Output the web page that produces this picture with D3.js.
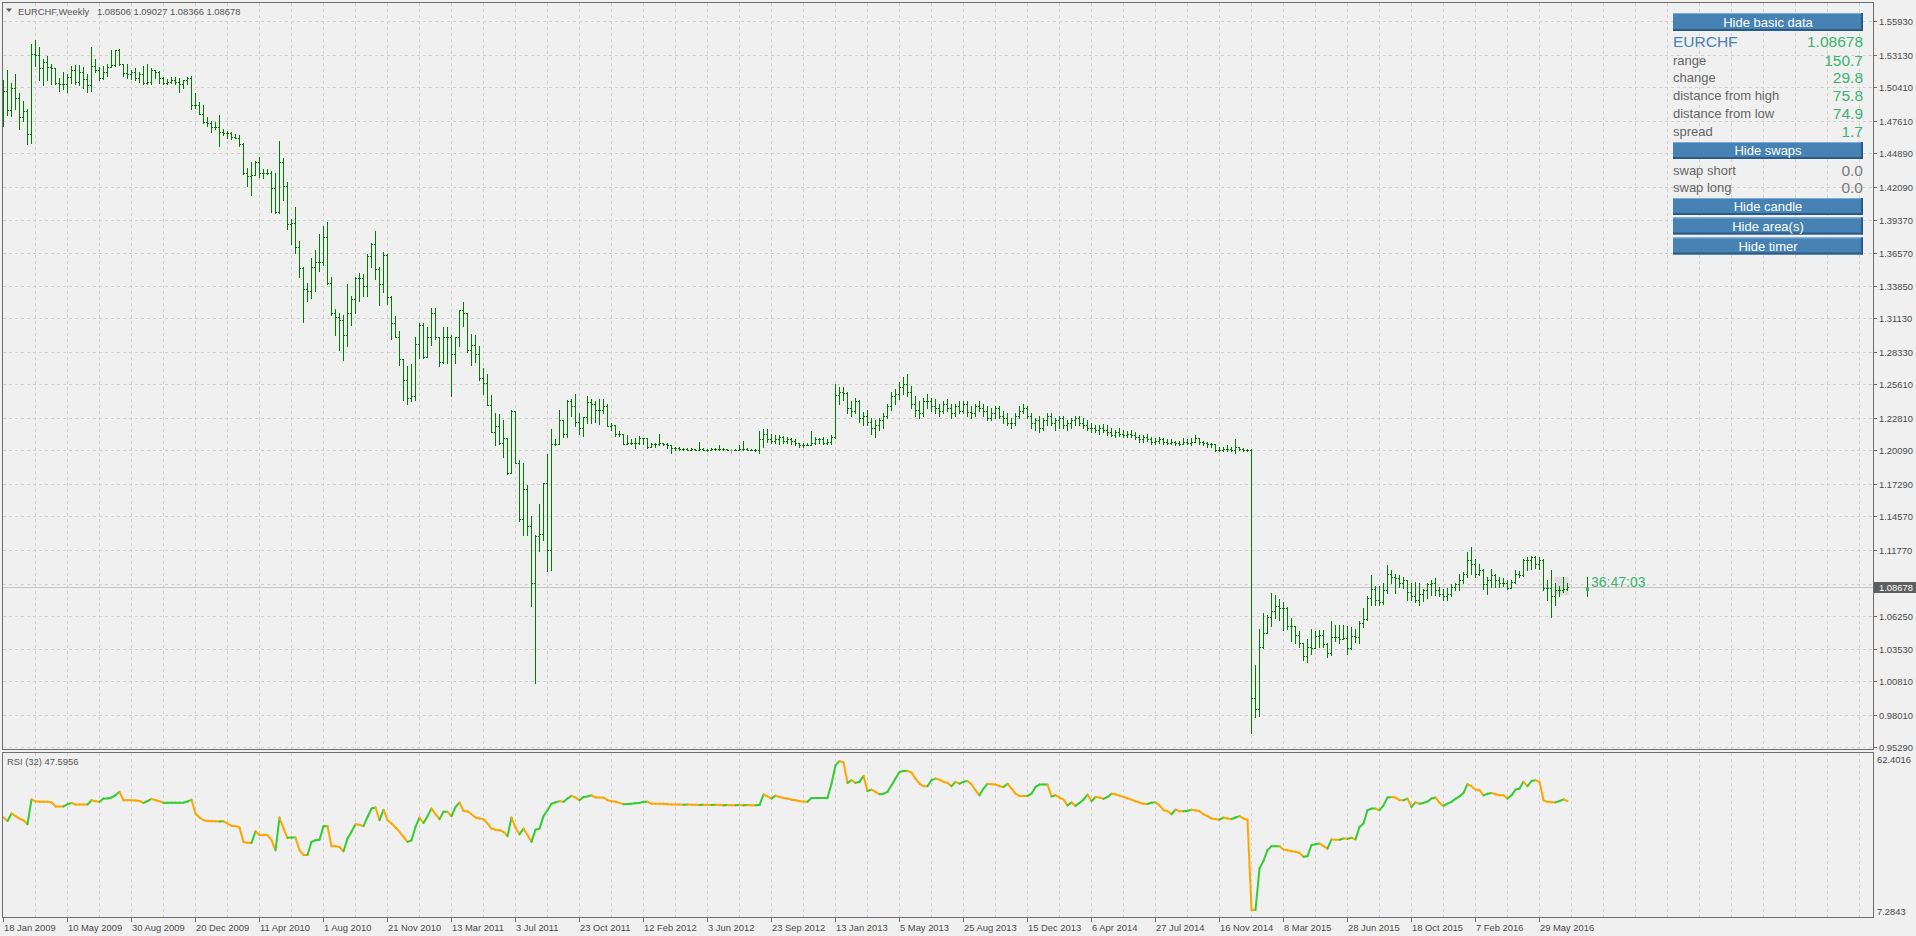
<!DOCTYPE html>
<html>
<head>
<meta charset="utf-8">
<script src="https://d3js.org/d3.v7.min.js"></script>
<style>
  body { margin:0; background:#f0f0f0; overflow:hidden; }
  svg { display:block; }
  text { font-family:"Liberation Sans", Arial, sans-serif; }
</style>
</head>
<body>
<script>
// EURCHF weekly bars, one entry per week starting at firstWeek
var symbol = "EURCHF", period = "Weekly";
var firstWeek = "2009-01-18";

var opens = [
1.493,1.501,1.485,1.504,1.495,1.479,1.484,1.465,1.532,1.531,
1.520,1.525,1.521,1.520,1.508,1.507,1.507,1.513,1.519,1.509,
1.517,1.511,1.506,1.522,1.519,1.512,1.517,1.521,1.523,1.535,
1.524,1.516,1.515,1.517,1.512,1.515,1.508,1.509,1.519,1.517,
1.512,1.508,1.509,1.510,1.509,1.507,1.510,1.512,1.489,1.489,
1.482,1.475,1.474,1.471,1.471,1.467,1.466,1.466,1.463,1.462,
1.457,1.433,1.430,1.431,1.442,1.433,1.433,1.433,1.420,1.400,
1.442,1.422,1.390,1.391,1.371,1.353,1.336,1.334,1.354,1.358,
1.358,1.379,1.341,1.316,1.312,1.310,1.297,1.316,1.327,1.345,
1.345,1.338,1.363,1.373,1.352,1.340,1.364,1.329,1.307,1.296,
1.277,1.260,1.245,1.246,1.290,1.306,1.279,1.296,1.316,1.296,
1.275,1.296,1.296,1.281,1.296,1.318,1.316,1.285,1.289,1.281,
1.261,1.257,1.239,1.216,1.221,1.207,1.211,1.182,1.234,1.190,
1.144,1.169,1.138,1.090,1.129,1.131,1.174,1.118,1.206,1.206,
1.226,1.215,1.242,1.238,1.225,1.220,1.229,1.241,1.240,1.235,
1.235,1.238,1.221,1.222,1.215,1.215,1.206,1.207,1.207,1.207,
1.211,1.211,1.204,1.206,1.206,1.207,1.206,1.205,1.203,1.203,
1.202,1.202,1.201,1.202,1.201,1.202,1.201,1.201,1.202,1.202,
1.202,1.202,1.201,1.201,1.201,1.202,1.202,1.201,1.201,1.201,
1.210,1.215,1.210,1.209,1.210,1.212,1.209,1.210,1.209,1.207,
1.205,1.205,1.205,1.207,1.210,1.210,1.207,1.208,1.212,1.247,
1.250,1.249,1.236,1.234,1.242,1.228,1.230,1.225,1.220,1.222,
1.226,1.230,1.238,1.246,1.248,1.254,1.256,1.250,1.240,1.235,
1.232,1.242,1.242,1.238,1.236,1.234,1.240,1.236,1.232,1.238,
1.234,1.240,1.233,1.232,1.238,1.236,1.234,1.228,1.232,1.236,
1.230,1.228,1.224,1.224,1.230,1.234,1.236,1.230,1.224,1.226,
1.220,1.226,1.230,1.224,1.226,1.228,1.222,1.224,1.226,1.228,
1.224,1.222,1.220,1.220,1.218,1.220,1.218,1.216,1.214,1.216,
1.215,1.214,1.215,1.214,1.212,1.210,1.212,1.210,1.208,1.209,
1.210,1.208,1.207,1.208,1.207,1.206,1.208,1.207,1.208,1.211,
1.208,1.207,1.206,1.206,1.201,1.201,1.202,1.202,1.201,1.204,
1.202,1.201,1.201,0.994,0.985,1.037,1.048,1.062,1.067,1.071,
1.069,1.069,1.054,1.054,1.047,1.040,1.029,1.037,1.036,1.046,
1.047,1.039,1.032,1.045,1.045,1.043,1.044,1.036,1.046,1.045,
1.057,1.060,1.078,1.085,1.076,1.074,1.084,1.098,1.095,1.094,
1.090,1.093,1.083,1.079,1.076,1.081,1.084,1.089,1.090,1.084,
1.081,1.079,1.081,1.087,1.089,1.093,1.098,1.109,1.106,1.098,
1.101,1.089,1.093,1.097,1.093,1.090,1.090,1.086,1.091,1.098,
1.097,1.109,1.109,1.112,1.106,1.109,1.086,1.086,1.079,1.084,
1.084,1.085];

var highs = [
1.510,1.519,1.508,1.515,1.499,1.493,1.486,1.540,1.544,1.538,
1.528,1.530,1.524,1.520,1.512,1.517,1.515,1.522,1.523,1.523,
1.521,1.515,1.538,1.528,1.521,1.522,1.524,1.535,1.535,1.536,
1.524,1.524,1.519,1.520,1.517,1.522,1.524,1.520,1.519,1.518,
1.513,1.511,1.513,1.513,1.512,1.510,1.513,1.514,1.499,1.492,
1.489,1.479,1.476,1.475,1.481,1.469,1.468,1.467,1.465,1.464,
1.458,1.437,1.442,1.443,1.446,1.436,1.436,1.434,1.433,1.459,
1.445,1.425,1.394,1.404,1.376,1.354,1.341,1.362,1.368,1.382,
1.388,1.392,1.346,1.319,1.316,1.314,1.340,1.330,1.346,1.349,
1.348,1.365,1.374,1.384,1.354,1.367,1.365,1.330,1.313,1.301,
1.277,1.271,1.273,1.296,1.307,1.307,1.304,1.320,1.320,1.296,
1.304,1.304,1.297,1.296,1.318,1.325,1.316,1.298,1.297,1.288,
1.270,1.265,1.247,1.232,1.231,1.226,1.211,1.235,1.234,1.193,
1.190,1.172,1.146,1.130,1.156,1.174,1.198,1.219,1.210,1.235,
1.226,1.243,1.244,1.248,1.232,1.229,1.246,1.244,1.242,1.244,
1.244,1.240,1.224,1.222,1.217,1.215,1.214,1.210,1.211,1.213,
1.211,1.211,1.207,1.207,1.215,1.207,1.207,1.205,1.204,1.204,
1.203,1.203,1.203,1.202,1.208,1.203,1.202,1.203,1.203,1.205,
1.203,1.202,1.202,1.202,1.205,1.209,1.203,1.202,1.202,1.217,
1.219,1.219,1.215,1.214,1.214,1.213,1.212,1.211,1.210,1.207,
1.207,1.207,1.217,1.212,1.211,1.212,1.210,1.214,1.256,1.254,
1.254,1.250,1.242,1.245,1.243,1.233,1.235,1.228,1.226,1.228,
1.232,1.240,1.250,1.252,1.258,1.262,1.265,1.255,1.246,1.242,
1.245,1.248,1.245,1.244,1.240,1.242,1.244,1.240,1.240,1.242,
1.242,1.242,1.238,1.240,1.242,1.240,1.238,1.236,1.238,1.238,
1.234,1.232,1.228,1.232,1.238,1.240,1.238,1.232,1.228,1.230,
1.228,1.232,1.232,1.228,1.230,1.230,1.226,1.228,1.230,1.230,
1.228,1.226,1.224,1.222,1.222,1.223,1.222,1.220,1.218,1.220,
1.218,1.217,1.218,1.216,1.214,1.214,1.215,1.212,1.211,1.212,
1.211,1.210,1.210,1.209,1.209,1.211,1.210,1.211,1.214,1.211,
1.209,1.208,1.207,1.206,1.204,1.204,1.205,1.204,1.210,1.204,
1.203,1.202,1.202,1.022,1.052,1.065,1.063,1.082,1.080,1.077,
1.074,1.070,1.061,1.054,1.050,1.040,1.043,1.052,1.050,1.051,
1.051,1.040,1.058,1.055,1.055,1.055,1.054,1.053,1.052,1.058,
1.069,1.079,1.097,1.088,1.088,1.090,1.105,1.101,1.098,1.097,
1.095,1.093,1.090,1.091,1.090,1.085,1.090,1.093,1.094,1.087,
1.085,1.086,1.089,1.090,1.098,1.099,1.116,1.120,1.110,1.106,
1.102,1.095,1.102,1.098,1.095,1.094,1.093,1.093,1.101,1.100,
1.110,1.112,1.113,1.113,1.112,1.110,1.093,1.101,1.090,1.088,
1.095,1.090];

var lows = [
1.472,1.481,1.480,1.486,1.469,1.476,1.457,1.458,1.522,1.510,
1.506,1.510,1.507,1.507,1.501,1.503,1.500,1.508,1.507,1.506,
1.504,1.500,1.501,1.517,1.510,1.511,1.514,1.521,1.522,1.523,
1.514,1.512,1.511,1.510,1.509,1.507,1.507,1.507,1.512,1.508,
1.507,1.507,1.508,1.507,1.500,1.504,1.507,1.486,1.487,1.482,
1.474,1.472,1.467,1.469,1.455,1.464,1.462,1.461,1.462,1.455,
1.432,1.422,1.414,1.431,1.429,1.428,1.432,1.400,1.399,1.399,
1.410,1.386,1.373,1.366,1.346,1.308,1.326,1.328,1.334,1.351,
1.356,1.340,1.314,1.297,1.285,1.276,1.288,1.306,1.316,1.326,
1.330,1.330,1.354,1.344,1.322,1.333,1.323,1.294,1.296,1.272,
1.243,1.240,1.242,1.243,1.278,1.278,1.279,1.289,1.294,1.271,
1.274,1.274,1.246,1.274,1.288,1.305,1.283,1.272,1.275,1.260,
1.248,1.239,1.216,1.205,1.206,1.195,1.181,1.182,1.190,1.142,
1.130,1.130,1.071,1.007,1.117,1.126,1.100,1.101,1.205,1.206,
1.212,1.212,1.230,1.221,1.215,1.213,1.224,1.224,1.225,1.223,
1.232,1.221,1.218,1.213,1.213,1.206,1.206,1.206,1.203,1.206,
1.206,1.203,1.204,1.204,1.205,1.205,1.203,1.199,1.201,1.201,
1.201,1.201,1.201,1.201,1.201,1.201,1.200,1.201,1.201,1.201,
1.201,1.201,1.199,1.201,1.201,1.201,1.201,1.201,1.200,1.199,
1.204,1.208,1.207,1.207,1.206,1.207,1.207,1.206,1.205,1.204,
1.204,1.205,1.205,1.206,1.207,1.206,1.206,1.206,1.211,1.240,
1.243,1.232,1.230,1.232,1.225,1.222,1.222,1.215,1.212,1.218,
1.220,1.228,1.235,1.240,1.244,1.248,1.246,1.236,1.230,1.228,
1.230,1.236,1.234,1.232,1.230,1.232,1.234,1.228,1.230,1.232,
1.232,1.230,1.228,1.230,1.234,1.230,1.226,1.226,1.228,1.228,
1.224,1.222,1.220,1.222,1.228,1.232,1.228,1.220,1.218,1.216,
1.218,1.222,1.222,1.218,1.220,1.220,1.218,1.220,1.222,1.222,
1.220,1.218,1.216,1.216,1.215,1.216,1.214,1.213,1.212,1.213,
1.212,1.212,1.212,1.210,1.208,1.208,1.209,1.206,1.206,1.207,
1.206,1.206,1.206,1.205,1.205,1.206,1.206,1.205,1.208,1.206,
1.205,1.204,1.204,1.200,1.200,1.200,1.200,1.200,1.199,1.201,
1.200,1.200,0.965,0.978,0.979,1.036,1.048,1.054,1.061,1.059,
1.051,1.052,1.042,1.040,1.037,1.026,1.024,1.031,1.036,1.037,
1.037,1.028,1.030,1.042,1.040,1.043,1.031,1.035,1.041,1.040,
1.053,1.059,1.072,1.072,1.072,1.073,1.082,1.090,1.082,1.087,
1.086,1.076,1.076,1.074,1.072,1.075,1.078,1.080,1.080,1.079,
1.076,1.076,1.079,1.084,1.084,1.090,1.095,1.098,1.095,1.097,
1.085,1.081,1.087,1.087,1.087,1.088,1.085,1.086,1.090,1.095,
1.096,1.101,1.102,1.103,1.102,1.084,1.076,1.062,1.072,1.079,
1.083,1.084];

var closes = [
1.501,1.485,1.504,1.495,1.479,1.484,1.465,1.532,1.531,1.520,
1.525,1.521,1.520,1.508,1.507,1.507,1.513,1.519,1.509,1.517,
1.511,1.506,1.522,1.519,1.512,1.517,1.521,1.523,1.535,1.524,
1.516,1.515,1.517,1.512,1.515,1.508,1.509,1.519,1.517,1.512,
1.508,1.509,1.510,1.509,1.507,1.510,1.512,1.489,1.489,1.482,
1.475,1.474,1.471,1.471,1.467,1.466,1.466,1.463,1.462,1.457,
1.433,1.430,1.431,1.442,1.433,1.433,1.433,1.420,1.400,1.442,
1.422,1.390,1.391,1.371,1.353,1.336,1.334,1.354,1.358,1.358,
1.379,1.341,1.316,1.312,1.310,1.297,1.316,1.327,1.345,1.345,
1.338,1.363,1.373,1.352,1.340,1.364,1.329,1.307,1.296,1.277,
1.260,1.245,1.246,1.290,1.306,1.279,1.296,1.316,1.296,1.275,
1.296,1.296,1.281,1.296,1.318,1.316,1.285,1.289,1.281,1.261,
1.257,1.239,1.216,1.221,1.207,1.211,1.182,1.234,1.190,1.144,
1.169,1.138,1.090,1.129,1.131,1.174,1.118,1.206,1.206,1.226,
1.215,1.242,1.238,1.225,1.220,1.229,1.241,1.240,1.235,1.235,
1.238,1.221,1.222,1.215,1.215,1.206,1.207,1.207,1.207,1.211,
1.211,1.204,1.206,1.206,1.207,1.206,1.205,1.203,1.203,1.202,
1.202,1.201,1.202,1.201,1.202,1.201,1.201,1.202,1.202,1.202,
1.202,1.201,1.201,1.201,1.202,1.202,1.201,1.201,1.201,1.210,
1.215,1.210,1.209,1.210,1.212,1.209,1.210,1.209,1.207,1.205,
1.205,1.205,1.207,1.210,1.210,1.207,1.208,1.212,1.247,1.250,
1.249,1.236,1.234,1.242,1.228,1.230,1.225,1.220,1.222,1.226,
1.230,1.238,1.246,1.248,1.254,1.256,1.250,1.240,1.235,1.232,
1.242,1.242,1.238,1.236,1.234,1.240,1.236,1.232,1.238,1.234,
1.240,1.233,1.232,1.238,1.236,1.234,1.228,1.232,1.236,1.230,
1.228,1.224,1.224,1.230,1.234,1.236,1.230,1.224,1.226,1.220,
1.226,1.230,1.224,1.226,1.228,1.222,1.224,1.226,1.228,1.224,
1.222,1.220,1.220,1.218,1.220,1.218,1.216,1.214,1.216,1.215,
1.214,1.215,1.214,1.212,1.210,1.212,1.210,1.208,1.209,1.210,
1.208,1.207,1.208,1.207,1.206,1.208,1.207,1.208,1.211,1.208,
1.207,1.206,1.206,1.201,1.201,1.202,1.202,1.201,1.204,1.202,
1.201,1.201,0.994,0.985,1.037,1.048,1.062,1.067,1.071,1.069,
1.069,1.054,1.054,1.047,1.040,1.029,1.037,1.036,1.046,1.047,
1.039,1.032,1.045,1.045,1.043,1.044,1.036,1.046,1.045,1.057,
1.060,1.078,1.085,1.076,1.074,1.084,1.098,1.095,1.094,1.090,
1.093,1.083,1.079,1.076,1.081,1.084,1.089,1.090,1.084,1.081,
1.079,1.081,1.087,1.089,1.093,1.098,1.109,1.106,1.098,1.101,
1.089,1.093,1.097,1.093,1.090,1.090,1.086,1.091,1.098,1.097,
1.109,1.109,1.112,1.106,1.109,1.086,1.086,1.079,1.084,1.084,
1.085,1.087];

var rsi = [
41.5,40.2,43.0,42.0,41.1,40.5,39.0,48.2,47.5,47.3,
47.3,47.3,47.1,45.6,45.6,45.6,46.4,46.9,46.3,46.3,
46.3,46.3,47.9,47.5,47.3,48.5,48.5,48.9,49.7,51.0,
47.9,47.9,47.9,47.8,47.6,46.9,47.6,48.4,47.9,47.5,
46.9,47.0,47.0,47.0,47.0,47.0,47.4,48.1,43.0,41.5,
40.5,40.2,40.1,40.1,40.0,40.1,39.3,38.4,38.4,37.8,
32.4,32.2,32.1,36.4,35.0,35.0,35.0,33.1,29.4,41.5,
37.4,34.0,34.1,34.1,29.4,27.6,27.6,32.5,33.1,33.3,
38.3,38.3,30.9,30.9,30.6,29.0,33.7,36.2,39.0,38.8,
38.3,41.7,44.8,45.2,40.5,44.4,40.5,39.3,37.8,36.2,
34.3,32.5,33.1,38.0,41.5,39.5,42.0,44.8,42.7,40.9,
43.6,43.6,42.0,45.4,47.0,43.9,43.8,42.7,41.5,41.1,
40.9,39.3,37.4,37.0,36.8,36.2,34.6,41.5,37.8,35.3,
37.4,35.0,32.5,37.0,37.4,42.0,44.2,46.6,47.1,47.5,
47.3,48.5,49.5,48.9,47.9,49.1,49.3,49.7,48.9,48.9,
48.9,47.9,47.5,47.3,46.9,46.4,46.5,46.6,46.8,46.9,
47.3,47.3,46.6,46.6,46.6,46.6,46.4,46.3,46.3,46.3,
46.2,46.3,46.2,46.2,46.1,46.2,46.1,46.1,46.2,46.1,
46.0,46.1,46.0,46.0,46.1,46.0,46.1,46.0,46.0,46.1,
50.0,49.3,48.5,49.6,49.1,48.7,48.5,48.1,47.9,47.5,
47.4,47.3,48.7,48.7,48.7,48.7,48.7,54.0,60.8,62.4,
61.9,54.3,55.3,54.3,54.7,56.9,51.3,51.8,51.0,50.1,
50.3,51.0,53.4,55.9,58.3,58.7,58.7,58.1,55.9,54.0,
53.1,53.1,55.3,55.9,55.5,54.7,54.3,53.1,54.7,54.0,
54.7,55.0,53.8,51.6,49.7,52.2,54.0,53.8,53.7,53.1,
52.8,54.0,52.2,50.3,49.5,49.5,49.5,50.3,52.8,53.7,
53.7,53.7,49.3,49.7,48.9,48.1,46.0,47.1,45.8,46.9,
48.1,50.0,47.5,49.1,48.9,48.4,49.1,50.3,50.1,49.6,
49.1,48.6,48.1,47.5,47.0,46.6,46.5,47.0,47.1,46.0,
44.2,43.9,42.7,44.4,43.8,43.8,43.9,44.4,44.2,43.8,
42.7,42.0,41.1,40.9,40.7,41.5,41.1,40.9,41.5,42.0,
41.1,40.7,7.3,7.3,22.6,25.5,29.4,30.9,30.9,30.9,
29.7,29.4,29.0,28.8,28.4,27.0,27.2,31.3,31.6,31.9,
30.9,30.0,33.4,33.3,33.3,33.7,33.6,34.0,33.4,38.0,
39.3,44.2,44.8,44.8,44.2,46.0,48.9,49.1,48.9,47.9,
47.9,48.5,45.4,47.1,46.6,46.9,47.4,48.5,48.9,46.9,
45.8,46.6,47.3,48.4,49.3,50.6,53.8,53.1,51.8,51.6,
49.7,50.3,50.6,50.1,49.7,49.7,48.5,49.7,51.8,52.2,
54.7,53.1,55.0,55.3,54.7,47.9,47.3,47.1,47.1,47.6,
48.2,47.6];

// the forming bar: title values, and the range its line covers in the picture
var current = {date: "2016-08-21", open: 1.08506, high: 1.09027, low: 1.08366, close: 1.08678};
var currentRange = [1.0793, 1.0949];
var candleArea = {from: "2016-06-26", to: "2016-07-17", low: 1.0799, high: 1.0949};
var timer = "36:47:03";
var dojiWeeks = [182];

var priceTicks = [1.55930,1.53130,1.50410,1.47610,1.44890,1.42090,1.39370,1.36570,1.33850,1.31130,
  1.28330,1.25610,1.22810,1.20090,1.17290,1.14570,1.11770,1.08950,1.06250,1.03530,1.00810,0.98010,0.95290];
var timeLabels = ["18 Jan 2009","10 May 2009","30 Aug 2009","20 Dec 2009","11 Apr 2010","1 Aug 2010",
  "21 Nov 2010","13 Mar 2011","3 Jul 2011","23 Oct 2011","12 Feb 2012","3 Jun 2012","23 Sep 2012",
  "13 Jan 2013","5 May 2013","25 Aug 2013","15 Dec 2013","6 Apr 2014","27 Jul 2014","16 Nov 2014",
  "8 Mar 2015","28 Jun 2015","18 Oct 2015","7 Feb 2016","29 May 2016"];
var rsiName = "RSI (32)", rsiLast = 47.5956, rsiRange = [7.2843, 62.4016];

var infoRows = [["range","150.7"],["change","29.8"],["distance from high","75.8"],["distance from low","74.9"],["spread","1.7"]];
var swapRows = [["swap short","0.0"],["swap long","0.0"]];
var buttons = ["Hide basic data","Hide swaps","Hide candle","Hide area(s)","Hide timer"];

// ---------------------------------------------------------------
var W = 1916, H = 936;
var main = {left: 2.5, right: 1873.5, top: 2.5, bottom: 749.5};
var sub = {top: 752.5, bottom: 917.5};
var barGreen = "#007c00", fg = "#4a4a4a", gridColor = "#d0d0d0";
var upColor = "#32cd32", downColor = "#ffa500", sea = "#3cb371";

var svg = d3.select("body").append("svg")
    .attr("width", W)
    .attr("height", H);
svg.append("rect").attr("width", W).attr("height", H).attr("fill", "#f0f0f0");

var parseISO = d3.utcParse("%Y-%m-%d");
var parseLabel = d3.utcParse("%d %b %Y");
var t0 = parseISO(firstWeek);
function weekDate(i) { return d3.utcDay.offset(t0, 7 * i); }

var x = d3.scaleUtc().domain([t0, weekDate(1)]).range([3.5, 7.5]);
var y = d3.scaleLinear().domain([0.9529, 1.5593]).range([747.3, 21.3]);
var yr = d3.scaleLinear().domain(rsiRange).range([910, 761]);
function px(d) { return Math.floor(x(d)); }
function py(v) { return Math.round(y(v)); }

// grid
var grid = svg.append("g")
    .attr("stroke", gridColor)
    .attr("stroke-dasharray", "3,3")
    .attr("shape-rendering", "crispEdges");
var gridWeeks = d3.range(0, 70).map(function(k) { return weekDate(8 * k); })
    .filter(function(d) { return x(d) > main.left + 2 && x(d) < main.right; });
[[main.top, main.bottom], [sub.top, sub.bottom]].forEach(function(r) {
  grid.append("g").selectAll("line").data(gridWeeks).join("line")
    .attr("x1", function(d) { return px(d) + 0.5; })
    .attr("x2", function(d) { return px(d) + 0.5; })
    .attr("y1", r[0]).attr("y2", r[1]);
});
grid.append("g").selectAll("line").data(priceTicks).join("line")
    .attr("x1", main.left).attr("x2", main.right)
    .attr("y1", function(d) { return py(d) + 0.5; })
    .attr("y2", function(d) { return py(d) + 0.5; });

// candle area box behind the last bars
svg.append("rect")
    .attr("x", px(parseISO(candleArea.from)) - 0.5)
    .attr("width", px(parseISO(candleArea.to)) - px(parseISO(candleArea.from)) + 2)
    .attr("y", py(candleArea.high))
    .attr("height", py(candleArea.low) - py(candleArea.high))
    .attr("fill", "#dcdcdc");

// current price line
svg.append("line")
    .attr("x1", main.left).attr("x2", main.right)
    .attr("y1", py(current.close) + 0.5).attr("y2", py(current.close) + 0.5)
    .attr("stroke", "#c6c6c6").attr("shape-rendering", "crispEdges");

// OHLC bars
var bars = closes.map(function(c, i) {
  return {i: i, date: weekDate(i), o: opens[i], h: highs[i], l: lows[i], c: c};
});
svg.append("g")
    .attr("fill", "none")
    .attr("shape-rendering", "crispEdges")
  .selectAll("path").data(bars).join("path")
    .attr("stroke", function(d) { return dojiWeeks.indexOf(d.i) >= 0 ? "#a8a8a8" : barGreen; })
    .attr("d", function(d) {
      var p = px(d.date), yh = py(d.h), yl = py(d.l), yo = py(d.o), yc = py(d.c);
      return "M" + (p + 0.5) + "," + yh + "V" + (yl + 1) +
             "M" + (p - 1) + "," + (yo + 0.5) + "H" + p +
             "M" + (p + 1) + "," + (yc + 0.5) + "H" + (p + 2);
    });

// forming bar
var cx = px(parseISO(current.date));
svg.append("line")
    .attr("x1", cx + 0.5).attr("x2", cx + 0.5)
    .attr("y1", py(currentRange[1])).attr("y2", py(currentRange[0]) + 1)
    .attr("stroke", barGreen).attr("shape-rendering", "crispEdges");
svg.append("rect")
    .attr("x", cx - 1).attr("width", 3)
    .attr("y", py(current.close)).attr("height", Math.max(3, py(current.open) - py(current.close) + 2))
    .attr("fill", sea);
svg.append("text")
    .attr("x", cx + 4).attr("y", py(current.close))
    .attr("font-size", 14).attr("fill", sea)
    .text(timer);

// RSI line, coloured by direction
var segs = [], last = upColor;
for (var i = 1; i < rsi.length; i++) {
  var col = rsi[i] > rsi[i - 1] ? upColor : (rsi[i] < rsi[i - 1] ? downColor : last);
  last = col;
  segs.push({a: weekDate(i - 1), b: weekDate(i), va: rsi[i - 1], vb: rsi[i], col: col});
}
svg.append("g")
    .attr("stroke-width", 2)
    .attr("stroke-linecap", "round")
  .selectAll("line").data(segs).join("line")
    .attr("x1", function(d) { return x(d.a); })
    .attr("x2", function(d) { return x(d.b); })
    .attr("y1", function(d) { return yr(d.va); })
    .attr("y2", function(d) { return yr(d.vb); })
    .attr("stroke", function(d) { return d.col; });

// frames
svg.append("rect")
    .attr("x", main.left).attr("y", main.top)
    .attr("width", main.right - main.left).attr("height", main.bottom - main.top)
    .attr("fill", "none").attr("stroke", "#6e6e6e").attr("shape-rendering", "crispEdges");
svg.append("rect")
    .attr("x", main.left).attr("y", sub.top)
    .attr("width", main.right - main.left).attr("height", sub.bottom - sub.top)
    .attr("fill", "none").attr("stroke", "#6e6e6e").attr("shape-rendering", "crispEdges");

// price axis
var fmt5 = d3.format(".5f"), fmt4 = d3.format(".4f");
var pa = svg.append("g").attr("font-size", 9.4).attr("fill", fg);
pa.selectAll("line").data(priceTicks).join("line")
    .attr("x1", main.right).attr("x2", main.right + 3)
    .attr("y1", function(d) { return py(d) + 0.5; })
    .attr("y2", function(d) { return py(d) + 0.5; })
    .attr("stroke", "#6e6e6e").attr("shape-rendering", "crispEdges");
pa.selectAll("text").data(priceTicks).join("text")
    .attr("x", 1879).attr("y", function(d) { return py(d) + 4; })
    .text(fmt5);
var cy = py(current.close);
svg.append("rect").attr("x", 1874).attr("y", cy - 5).attr("width", 42).attr("height", 11).attr("fill", "#5e5e5e");
svg.append("text").attr("x", 1879).attr("y", cy + 4).attr("font-size", 9.4).attr("fill", "#fff").text(fmt5(current.close));

// RSI axis
svg.append("text").attr("x", 1877).attr("y", 762.5).attr("font-size", 9.4).attr("fill", fg).text(fmt4(rsiRange[1]));
svg.append("text").attr("x", 1877).attr("y", 915).attr("font-size", 9.4).attr("fill", fg).text(fmt4(rsiRange[0]));

// time axis
var ta = svg.append("g").attr("font-size", 9.4).attr("fill", fg);
ta.selectAll("line").data(timeLabels).join("line")
    .attr("x1", function(d) { return px(parseLabel(d)) + 0.5; })
    .attr("x2", function(d) { return px(parseLabel(d)) + 0.5; })
    .attr("y1", sub.bottom).attr("y2", sub.bottom + 4)
    .attr("stroke", "#6e6e6e").attr("shape-rendering", "crispEdges");
ta.selectAll("text").data(timeLabels).join("text")
    .attr("x", function(d) { return px(parseLabel(d)) + 1; })
    .attr("y", 931)
    .text(function(d) { return d; });

// titles
svg.append("path").attr("d", "M6,8.5H12L9,12Z").attr("fill", "#555");
var title = svg.append("text").attr("y", 14.5).attr("font-size", 9.4).attr("fill", "#555");
title.append("tspan").attr("x", 18).text(symbol + "," + period);
title.append("tspan").attr("x", 97)
    .text([current.open, current.high, current.low, current.close].map(fmt5).join(" "));
svg.append("text").attr("x", 7).attr("y", 765).attr("font-size", 9.4).attr("fill", "#555")
    .text(rsiName + " " + rsiLast);

// info panel
var panelX = 1673, panelW = 190, panelR = panelX + panelW;
function button(top, h, label) {
  var g = svg.append("g");
  g.append("rect").attr("x", panelX).attr("y", top).attr("width", panelW).attr("height", h).attr("fill", "#4682b4");
  g.append("rect").attr("x", panelX).attr("y", top).attr("width", panelW).attr("height", 1).attr("fill", "#7eaad6");
  g.append("rect").attr("x", panelX).attr("y", top + h - 2).attr("width", panelW).attr("height", 2).attr("fill", "#2b5a86");
  g.append("rect").attr("x", panelR - 2).attr("y", top).attr("width", 2).attr("height", h).attr("fill", "#2b5a86");
  g.append("text").attr("x", panelX + panelW / 2).attr("y", top + h / 2 + 4.6)
    .attr("text-anchor", "middle").attr("font-size", 13).attr("fill", "#fff").text(label);
}
button(13, 18, buttons[0]);
svg.append("text").attr("x", panelX).attr("y", 47).attr("font-size", 15.5).attr("fill", "#4682b4").text(symbol);
svg.append("text").attr("x", panelR).attr("y", 47).attr("font-size", 15.5).attr("fill", sea)
    .attr("text-anchor", "end").text(fmt5(current.close));
var rowY = d3.scaleLinear().domain([0, 1]).range([60, 77.75]);
infoRows.forEach(function(r, k) {
  svg.append("text").attr("x", panelX).attr("y", rowY(k) + 4.5).attr("font-size", 13).attr("fill", "#656565").text(r[0]);
  svg.append("text").attr("x", panelR).attr("y", rowY(k) + 5.5).attr("font-size", 15.5).attr("fill", sea)
    .attr("text-anchor", "end").text(r[1]);
});
button(142, 17, buttons[1]);
swapRows.forEach(function(r, k) {
  var cyy = 170 + k * 17.7;
  svg.append("text").attr("x", panelX).attr("y", cyy + 4.5).attr("font-size", 13).attr("fill", "#656565").text(r[0]);
  svg.append("text").attr("x", panelR).attr("y", cyy + 5.5).attr("font-size", 15.5).attr("fill", "#7a7a7a")
    .attr("text-anchor", "end").text(r[1]);
});
button(198, 17, buttons[2]);
button(217.5, 17, buttons[3]);
button(237.5, 17, buttons[4]);
</script>
</body>
</html>
